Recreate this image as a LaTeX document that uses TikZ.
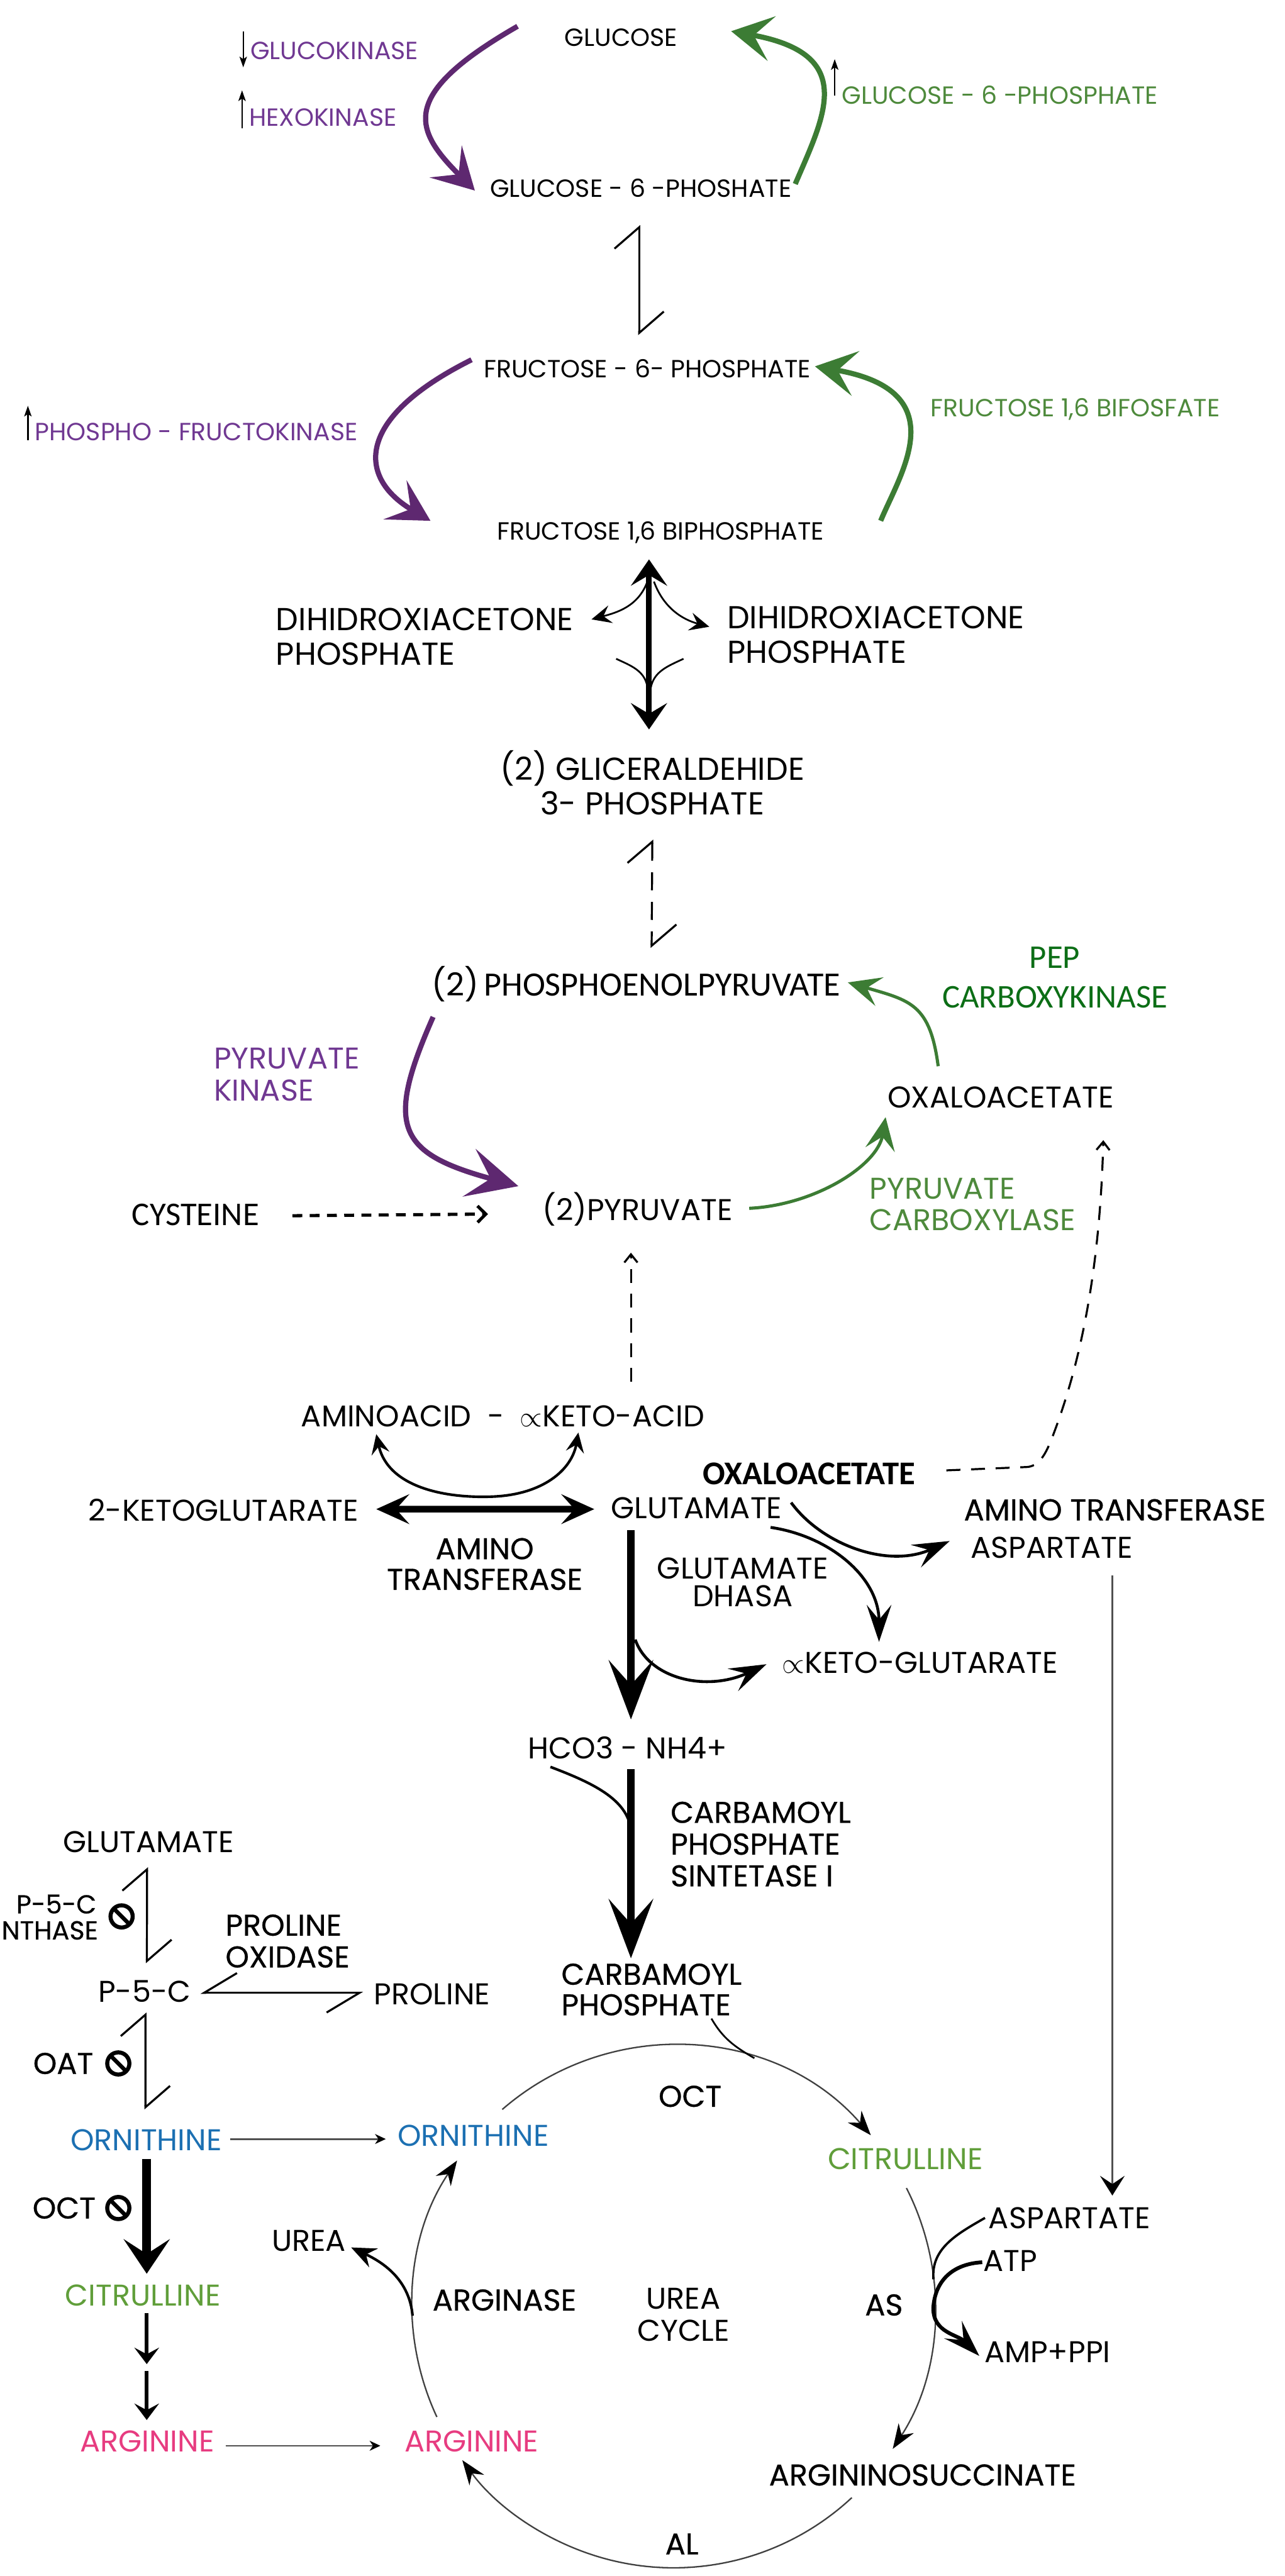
\documentclass[tikz,border=0pt]{standalone}
\usepackage{fontspec}
\setmainfont{Poppins}
\newfontfamily\calib{Carlito}
\newfontfamily\popm[FakeBold=0.6]{Poppins}
\usetikzlibrary{arrows.meta}

\definecolor{purpA}{RGB}{94,40,112}
\definecolor{purpT}{RGB}{112,56,146}
\definecolor{grnA}{RGB}{60,124,52}
\definecolor{grnT}{RGB}{78,138,60}
\definecolor{pepgrn}{RGB}{12,110,22}
\definecolor{ornblue}{RGB}{28,112,178}
\definecolor{citgrn}{RGB}{96,158,58}
\definecolor{argpink}{RGB}{231,60,128}
\definecolor{lgray}{RGB}{80,80,80}

\tikzset{
  headA/.tip={Stealth[length=0.5cm,width=0.55cm,inset=0.22cm]},
  headB/.tip={Stealth[length=0.62cm,width=0.6cm,inset=0.27cm]},
  headC/.tip={Stealth[length=0.72cm,width=0.54cm,inset=0.3cm]},
  headD/.tip={Stealth[length=0.4cm,width=0.36cm,inset=0.16cm]},
  headE/.tip={Stealth[length=0.24cm,width=0.22cm,inset=0.09cm]},
  headF/.tip={Stealth[length=0.13cm,width=0.12cm,inset=0.04cm,color=black]},
  headG/.tip={Stealth[length=0.32cm,width=0.44cm,inset=0.13cm]},
  headK/.tip={Stealth[length=0.45cm,width=0.3cm,inset=0.18cm]},
  headL/.tip={Stealth[length=0.42cm,width=0.56cm,inset=0.18cm]},
  headM/.tip={Stealth[length=0.3cm,width=0.22cm,inset=0.1cm,color=black]},
  barbL/.tip={Straight Barb[harpoon,length=0.26cm,width=0.6cm]},
  barbR/.tip={Straight Barb[harpoon,swap,length=0.4cm,width=0.48cm]},
  lbl/.style={inner sep=0pt,font=\fontsize{8.6}{10.5}\selectfont},
  mlbl/.style={inner sep=0pt,font=\fontsize{10.4}{11}\selectfont},
  hlbl/.style={inner sep=0pt,font=\popm\fontsize{10.4}{11}\selectfont},
  biglbl/.style={inner sep=0pt,font=\fontsize{11}{12}\selectfont},
  cal/.style={inner sep=0pt,font=\calib\fontsize{11.5}{13.7}\selectfont},
  calb/.style={inner sep=0pt,font=\calib\bfseries\fontsize{11.5}{13}\selectfont},
  nosign/.style={circle,draw,line width=1.4pt,inner sep=0pt,minimum size=0.27cm,
    path picture={\draw[line width=1.4pt] (path picture bounding box.north west) -- (path picture bounding box.south east);}},
  ind/.style={line width=0.5pt,-{Stealth[length=0.13cm,width=0.09cm,inset=0.03cm]}},
  colarr/.style={line width=1.8pt,-{headA}},
  harp/.style={line width=0.7pt,{barbL}-{barbL}},
  harpb/.style={line width=0.7pt,{barbR}-{barbR}},
  smarr/.style={line width=0.6pt,-{headE}},
  mainarr/.style={line width=2.5pt,-{headC}},
  dasharr/.style={line width=1.1pt,dash pattern=on 0.12cm off 0.09cm,-{Straight Barb[length=0.1cm,width=0.2cm]}},
  dashup/.style={line width=0.7pt,dash pattern=on 0.17cm off 0.13cm,-{Straight Barb[length=0.1cm,width=0.16cm]}},
  gryln/.style={draw=lgray,line width=0.6pt,-{headF}},
  cyc/.style={draw=black!75,line width=0.5pt,-{headM}},
}

\begin{document}
\begin{tikzpicture}[x=0.02cm,y=0.02cm]
\useasboundingbox (0,0) rectangle (782,-1568);

\node[lbl] (glc) at (378,-23) {GLUCOSE};
\node[lbl,text=purpT] (gk) at (203.5,-31) {GLUCOKINASE};
\node[lbl,text=purpT] (hk) at (196.5,-71.5) {HEXOKINASE};
\node[lbl,text=grnT] (g6pup) at (608.5,-58) {GLUCOSE - 6 -PHOSPHATE};
\node[lbl] (g6p) at (390,-114.5) {GLUCOSE - 6 -PHOSHATE};
\node[lbl] (f6p) at (394,-224.5) {FRUCTOSE - 6- PHOSPHATE};
\node[lbl,text=purpT] (pfk) at (119.5,-263) {PHOSPHO - FRUCTOKINASE};
\node[lbl,text=grnT] (f16bf) at (654.5,-249) {FRUCTOSE 1,6 BIFOSFATE};
\node[lbl] (f16bp) at (402,-324) {FRUCTOSE 1,6 BIPHOSPHATE};
\node[biglbl,align=left] (dhapl) at (258.5,-387.5) {DIHIDROXIACETONE\\PHOSPHATE};
\node[biglbl,align=left] (dhapr) at (533,-386.5) {DIHIDROXIACETONE\\PHOSPHATE};
\node[biglbl,align=center] (g3p) at (397,-476.5) {(2) GLICERALDEHIDE\\3- PHOSPHATE};
\node[biglbl] (pep) at (387,-599) {(2)\,{\calib\fontsize{11.8}{13}\selectfont PHOSPHOENOLPYRUVATE}};
\node[cal,text=pepgrn,align=center] (pepck) at (642,-595) {PEP\\CARBOXYKINASE};
\node[mlbl,text=purpT,align=left] (pk) at (174.5,-654) {PYRUVATE\\KINASE};
\node[mlbl] (oaa) at (609,-668) {OXALOACETATE};
\node[cal] (cys) at (119,-739.5) {CYSTEINE};
\node[mlbl] (pyr) at (388,-736) {(2)PYRUVATE};
\node[mlbl,text=grnT,align=left] (pc) at (592,-733) {PYRUVATE\\CARBOXYLASE};
\node[mlbl] (aa) at (306,-862) {AMINOACID \ - \ $\propto$KETO-ACID};
\node[mlbl] (akg2) at (136,-919) {2-KETOGLUTARATE};
\node[mlbl] (glu) at (424,-918) {GLUTAMATE};
\node[hlbl,align=center,font=\popm\fontsize{10.4}{10.6}\selectfont] (at1) at (295,-952) {AMINO\\TRANSFERASE};
\node[calb] (oaa2) at (492.5,-897) {OXALOACETATE};
\node[hlbl] (at2) at (678.5,-919) {AMINO TRANSFERASE};
\node[mlbl] (asp1) at (640,-942) {ASPARTATE};
\node[mlbl,align=center,font=\fontsize{10.4}{9.6}\selectfont] (dhasa) at (452,-963) {GLUTAMATE\\DHASA};
\node[mlbl] (akg) at (560,-1012) {$\propto$KETO-GLUTARATE};
\node[mlbl] (hco) at (382,-1064) {HCO3 - NH4+};
\node[hlbl,align=left] (cps) at (463,-1122.5) {CARBAMOYL\\PHOSPHATE\\SINTETASE I};
\node[hlbl,align=left,font=\popm\fontsize{10.4}{10.6}\selectfont] (cp) at (396.5,-1211) {CARBAMOYL\\PHOSPHATE};
\node[mlbl] (glu2) at (90.5,-1121) {GLUTAMATE};
\node[hlbl,anchor=east,font=\popm\fontsize{9}{9}\selectfont] (p5ca) at (59,-1159) {P-5-C};
\node[hlbl,anchor=east,font=\popm\fontsize{9}{9}\selectfont] (p5cb) at (60,-1175) {NTHASE};
\node[nosign] (no1) at (74,-1166.5) {};
\node[hlbl,align=left] (po) at (175,-1181.5) {PROLINE\\OXIDASE};
\node[mlbl] (p5c) at (88,-1212) {P-5-C};
\node[mlbl] (pro) at (263,-1214) {PROLINE};
\node[hlbl] (oat) at (38.5,-1256) {OAT};
\node[nosign] (no2) at (72,-1256) {};
\node[mlbl,text=ornblue] (orn1) at (89,-1302.5) {ORNITHINE};
\node[mlbl,text=ornblue] (orn2) at (288,-1300) {ORNITHINE};
\node[hlbl] (oct) at (420,-1276) {OCT};
\node[mlbl,text=citgrn] (cit2) at (551,-1314) {CITRULLINE};
\node[hlbl] (octi) at (39,-1344) {OCT};
\node[nosign] (no3) at (72,-1344) {};
\node[mlbl,text=citgrn] (cit1) at (87,-1397) {CITRULLINE};
\node[mlbl,text=argpink] (arg1) at (89.5,-1486) {ARGININE};
\node[mlbl,text=argpink] (arg2) at (287,-1486) {ARGININE};
\node[mlbl] (urea) at (188,-1364) {UREA};
\node[hlbl] (arginase) at (307,-1400) {ARGINASE};
\node[mlbl,align=center] (ucyc) at (416,-1409) {UREA\\CYCLE};
\node[hlbl] (as) at (538,-1403) {AS};
\node[mlbl] (asp2) at (651,-1350) {ASPARTATE};
\node[mlbl] (atp) at (615,-1376) {ATP};
\node[mlbl] (amp) at (637.5,-1431.5) {AMP+PPI};
\node[hlbl] (asuc) at (561.5,-1506.5) {ARGININOSUCCINATE};
\node[hlbl] (al) at (415,-1548.5) {AL};
\coordinate (uc) at (410,-1404);
\coordinate (citarg) at (89.3,-1441);

\draw[ind] (gk.west) ++(-4,12) -- ++(0,-22);
\draw[ind] (hk.west) ++(-4,-6.5) -- ++(0,23);
\draw[ind] (g6pup.west) ++(-4,0) -- ++(0,22);
\draw[ind] (pfk.west) ++(-4,-5) -- ++(0,21);

\draw[colarr,purpA] ([shift={(-63,7)}]glc.center) .. controls (242,-58) and (252,-79) .. ([shift={(-101,-1.5)}]g6p.center);
\draw[colarr,grnA] ([shift={(94,2.5)}]g6p.center) .. controls (502,-70) and (522,-33) .. ([shift={(67,4)}]glc.center);
\draw[harp] ([shift={(-1,-22.5)}]g6p.center) -- ([shift={(-5,20.5)}]f6p.center);
\draw[colarr,purpA] ([shift={(-107,5.5)}]f6p.center) .. controls (215,-255) and (218,-291) .. ([shift={(-140,7)}]f16bp.center);
\draw[colarr,grnA] ([shift={(134,7)}]f16bp.center) .. controls (548,-288) and (582,-238) .. ([shift={(102,1.5)}]f6p.center);

\draw[line width=2pt,{headG}-{headG}] ([shift={(-7,-16.5)}]f16bp.center) -- ([shift={(-2,32.5)}]g3p.center);
\draw[smarr] ([shift={(-8,-30)}]f16bp.center) to[out=-110,in=15] ([shift={(101.5,10.5)}]dhapl.center);
\draw[smarr] ([shift={(-4,-30)}]f16bp.center) to[out=-70,in=165] ([shift={(-101.3,5)}]dhapr.center);
\draw[line width=0.6pt] ([shift={(116.5,-13.5)}]dhapl.center) to[out=-25,in=100] ([shift={(-3,58.5)}]g3p.center);
\draw[line width=0.6pt] ([shift={(-117,-14.5)}]dhapr.center) to[out=-155,in=80] ([shift={(-1,57.5)}]g3p.center);
\draw[harp,dash pattern=on 0.22cm off 0.14cm] ([shift={(0,-34.5)}]g3p.center) -- ([shift={(9.6,22)}]pep.center);

\draw[grnA,line width=1.1pt,-{headD}] ([shift={(-38,19)}]oaa.center) .. controls (566,-611) and (554,-609) .. ([shift={(129,1)}]pep.center);
\draw[colarr,purpA,-{headB}] ([shift={(-123.4,-20)}]pep.center) .. controls (234,-686) and (242,-702) .. ([shift={(-72.5,14)}]pyr.center);
\draw[dasharr] ([shift={(59,-0.5)}]cys.center) -- ([shift={(-91,-3)}]pyr.center);
\draw[grnA,line width=1.1pt,-{headD}] ([shift={(68,0.5)}]pyr.center) .. controls (496,-733.5) and (534,-709.5) .. ([shift={(-70,-12)}]oaa.center);
\draw[dashup] ([shift={(78,21)}]aa.center) -- ([shift={(-4,-26.5)}]pyr.center);
\draw[dashup] ([shift={(83.5,2)}]oaa2.center) -- (624,-893) .. controls (632,-893) and (636,-886) .. (640,-876) .. controls (652,-845) and (669,-790) .. ([shift={(62.5,-26)}]oaa.center);

\draw[line width=0.9pt,{headE}-{headE}] ([shift={(-77,-11)}]aa.center) .. controls (236,-905) and (270,-912) .. (299,-911) .. controls (330,-910) and (348,-895) .. ([shift={(46,-10)}]aa.center);
\draw[line width=2.3pt,{headD}-{headD}] ([shift={(93,0.4)}]akg2.center) -- ([shift={(-62.3,-0.6)}]glu.center);
\draw[line width=1pt,-{headK}] ([shift={(57.5,3.4)}]glu.center) .. controls (500,-940) and (540,-955) .. ([shift={(-62,4)}]asp1.center);
\draw[line width=1pt,-{headK}] ([shift={(45,-11.7)}]glu.center) .. controls (505,-935) and (535,-960) .. ([shift={(-25,12.6)}]akg.center);
\draw[mainarr] ([shift={(-40,-13.5)}]glu.center) -- ([shift={(2,17.4)}]hco.center);
\draw[line width=1pt,-{headK}] ([shift={(-37.4,-80)}]glu.center) .. controls (395,-1022) and (430,-1030) .. ([shift={(-93.5,-1)}]akg.center);
\draw[draw=lgray,line width=0.6pt,-{Stealth[length=0.24cm,width=0.3cm,inset=0.1cm,color=black]}] ([shift={(37,-17)}]asp1.center) -- ([shift={(26,13.6)}]asp2.center);

\draw[mainarr] ([shift={(2,-13)}]hco.center) -- ([shift={(-12.5,19)}]cp.center);
\draw[line width=0.9pt] ([shift={(-47,-11.5)}]hco.center) .. controls (360,-1085) and (382,-1095) .. ([shift={(2,-50)}]hco.center);

\draw[harp] ([shift={(-1,-15.5)}]glu2.center) -- ([shift={(1.4,17)}]p5c.center);
\draw[harpb] ([shift={(34,-1)}]p5c.center) -- ([shift={(-42,1)}]pro.center);
\draw[harp] ([shift={(0.5,-13)}]p5c.center) -- ([shift={(-0.5,18.5)}]orn1.center);
\draw[gryln] ([shift={(51,0.5)}]orn1.center) -- ([shift={(-53.2,-2)}]orn2.center);
\draw[line width=3pt,-{headL}] ([shift={(0.3,-11.5)}]orn1.center) -- ([shift={(2.3,13)}]cit1.center);
\draw[line width=1.3pt,-{Stealth[length=0.2cm,width=0.3cm,inset=0.08cm]}] ([shift={(2.3,-11)}]cit1.center) -- ([shift={(0,2)}]citarg);
\draw[line width=1.3pt,-{Stealth[length=0.2cm,width=0.3cm,inset=0.08cm]}] ([shift={(0,-2)}]citarg) -- ([shift={(-0.2,13)}]arg1.center);
\draw[gryln] ([shift={(47.8,-2.7)}]arg1.center) -- ([shift={(-55.5,-2.7)}]arg2.center);

\draw[cyc] ([shift={(131:159)}]uc) arc[start angle=131,end angle=41,radius=159];
\draw[cyc] ([shift={(27:159)}]uc) arc[start angle=27,end angle=-33,radius=159];
\draw[cyc] ([shift={(-47:159)}]uc) arc[start angle=-47,end angle=-144,radius=159];
\draw[cyc] ([shift={(205:159)}]uc) arc[start angle=205,end angle=146,radius=159];
\draw[line width=0.6pt] ([shift={(36.5,-17.7)}]cp.center) to[out=-60,in=150] ([shift={(72:159)}]uc);
\draw[line width=0.9pt,-{Stealth[length=0.3cm,width=0.25cm,inset=0.1cm]}] ([shift={(182:159)}]uc) to[out=95,in=-25] ([shift={(25.7,-4)}]urea.center);
\draw[line width=0.8pt] ([shift={(-51.5,0)}]asp2.center) to[out=-150,in=95] ([shift={(6:159)}]uc);
\draw[line width=1.3pt,-{headK}] ([shift={(-17.2,-1)}]atp.center) .. controls (580,-1378) and (569,-1388) .. (568,-1405) .. controls (568,-1420) and (583,-1421) .. ([shift={(-41.5,-2.5)}]amp.center);
\end{tikzpicture}
\end{document}
